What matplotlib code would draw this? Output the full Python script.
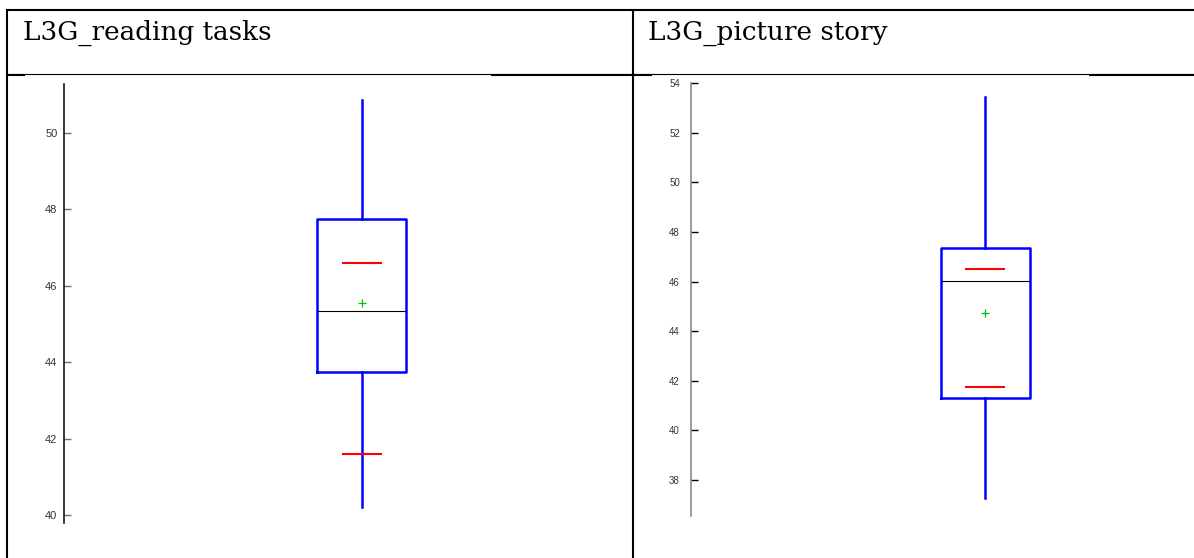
"""
Two boxplots inside a two-cell table (L3G reading tasks / picture story).
"""

import matplotlib
matplotlib.use("Agg")
import matplotlib.pyplot as plt
from matplotlib.lines import Line2D

# ------------------------------------------------------------------
# data
# ------------------------------------------------------------------
titles = ["L3G_reading tasks", "L3G_picture story"]

whis_low = [40.22, 37.27]
q1 = [43.75, 41.32]
median = [45.34, 46.03]
q3 = [47.75, 47.35]
whis_high = [50.85, 53.45]
means = [45.55, 44.73]
red_low = [41.60, 41.77]
red_high = [46.60, 46.50]

ylims = [(39.80, 51.27), (36.56, 54.0)]
yticks = [[40, 42, 44, 46, 48, 50], [38, 40, 42, 44, 46, 48, 50, 52, 54]]

# ------------------------------------------------------------------
# layout helpers (pixel based, figure is 1194 x 558)
# ------------------------------------------------------------------
W, H = 1194, 558
fig = plt.figure(figsize=(W / 100, H / 100), dpi=100)


def fx(x):
    return x / W


def fy(y):
    return 1 - y / H


def hline(y, x0, x1, lw):
    fig.add_artist(Line2D([fx(x0), fx(x1)], [fy(y), fy(y)], color="black",
                          lw=lw, transform=fig.transFigure, solid_capstyle="butt"))


def vline(x, y0, y1, lw):
    fig.add_artist(Line2D([fx(x), fx(x)], [fy(y0), fy(y1)], color="black",
                          lw=lw, transform=fig.transFigure, solid_capstyle="butt"))


# table frame
hline(9.5, 6, W, 1.5)
hline(74, 6, W, 0.8)
for x0, x1 in [(6, 25), (491, 652), (1089, W)]:
    hline(74.6, x0, x1, 1.5)
vline(7, 9, H, 1.5)
vline(633, 9, H, 1.5)

# header titles
for tx, t in zip([23, 648], titles):
    fig.text(fx(tx), fy(40), t, family=["DejaVu Serif"],
             fontsize=18.9, va="baseline", ha="left", color="black")

# axes geometry: (spine x, top y, bottom y, right x, center x)
geom = [(64.3, 84.0, 523.0, 620.0, 361.7),
        (691.0, 83.3, 515.7, 1180.0, 985.3)]
spine_col = ["black", "#808080"]
tick_col = ["#707070", "black"]
lab_size = [8.0, 7.0]
lab_pad = [5.0, 8.0]

for i in range(2):
    sx, top, bot, rx, cx = geom[i]
    ax = fig.add_axes([fx(sx), fy(bot), fx(rx - sx), (bot - top) / H])
    unit = cx - sx  # pixels per x unit (box sits at x=1)
    ax.set_xlim(0, (rx - sx) / unit)
    ax.set_ylim(*ylims[i])

    stats = [{
        "med": median[i], "q1": q1[i], "q3": q3[i],
        "whislo": whis_low[i], "whishi": whis_high[i],
        "mean": means[i], "fliers": [],
    }]
    ax.bxp(stats, positions=[1], widths=88.5 / unit, showcaps=False,
           showfliers=False, showmeans=True, manage_ticks=False,
           boxprops=dict(color="#0000ff", lw=1.8),
           whiskerprops=dict(color="#0000ff", lw=1.8),
           medianprops=dict(color="black", lw=0.8),
           meanprops=dict(marker="+", markeredgecolor="#00c000",
                          markersize=6, markeredgewidth=0.9))
    hw = 20 / unit
    ax.hlines([red_low[i], red_high[i]], 1 - hw, 1 + hw, colors="#ff0000", lw=1.5)

    for side in ["top", "right", "bottom"]:
        ax.spines[side].set_visible(False)
    ax.spines["left"].set_color(spine_col[i])
    ax.spines["left"].set_linewidth(1.1)
    ax.set_yticks(yticks[i])
    ax.set_xticks([])
    ax.tick_params(axis="y", direction="in", length=5, width=1.0,
                   color=tick_col[i], labelsize=lab_size[i], pad=lab_pad[i],
                   labelcolor="#333333")
    for lab in ax.get_yticklabels():
        lab.set_family(["Liberation Sans", "DejaVu Sans"])
    ax.patch.set_visible(False)

fig.savefig("out.png", dpi=100)
